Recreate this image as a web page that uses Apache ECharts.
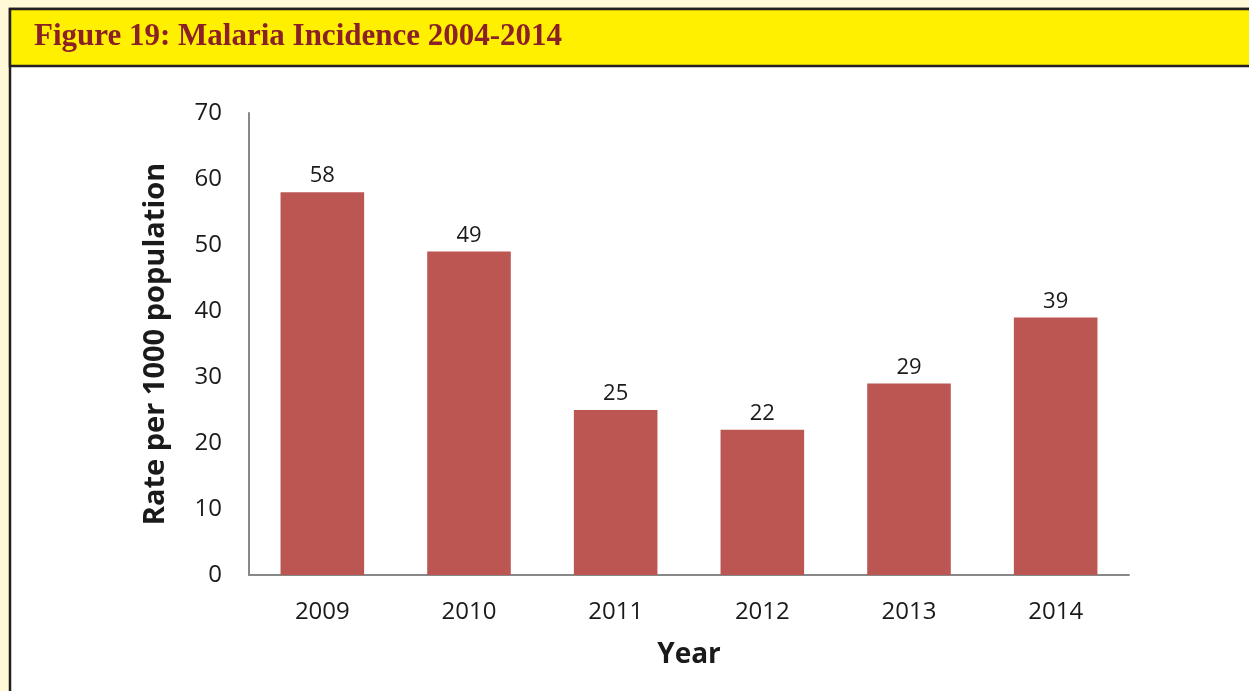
<!DOCTYPE html>
<html>
<head>
<meta charset="utf-8">
<script src="https://cdn.jsdelivr.net/npm/echarts@6/dist/echarts.min.js"></script>
<style>
html,body{margin:0;padding:0;background:#FFF9D7;}
#chart{width:1249px;height:691px;}
</style>
</head>
<body>
<div id="chart"></div>
<script>
const titleText = "Figure 19: Malaria Incidence 2004-2014";
const categories = ["2009", "2010", "2011", "2012", "2013", "2014"];
const values = [58, 49, 25, 22, 29, 39];
const yTicks = { min: 0, max: 70, interval: 10 };
const yAxisName = "Rate per 1000 population";
const xAxisName = "Year";

const chart = echarts.init(document.getElementById('chart'));
const font = "'Open Sans', 'Noto Sans', sans-serif";
chart.setOption({
  backgroundColor: '#FFF9D7',
  animation: false,
  graphic: [
    { type: 'rect', z: -10, shape: { x: 10, y: 9, width: 1260, height: 700 }, style: { fill: '#ffffff', stroke: '#231F20', lineWidth: 2.5 } },
    { type: 'rect', z: -9, shape: { x: 10, y: 9, width: 1260, height: 57 }, style: { fill: '#FFF000', stroke: '#231F20', lineWidth: 2.5 } },
    { type: 'text', z: 5, left: 34, top: 21, style: { text: titleText, fill: '#8A2127', font: "bold 31px 'Liberation Serif', serif" } }
  ],
  grid: { left: 249, top: 113, right: 120, bottom: 116 },
  xAxis: {
    type: 'category',
    data: categories,
    axisLine: { lineStyle: { color: '#888888', width: 2 } },
    axisTick: { show: false },
    axisLabel: { color: '#1a1a1a', fontSize: 24, fontFamily: font, margin: 25 },
    name: xAxisName,
    nameLocation: 'middle',
    nameGap: 66,
    nameTextStyle: { color: '#1a1a1a', fontSize: 28, fontWeight: 'bold', fontFamily: font }
  },
  yAxis: {
    type: 'value',
    min: yTicks.min, max: yTicks.max, interval: yTicks.interval,
    axisLine: { show: true, lineStyle: { color: '#888888', width: 2 } },
    axisTick: { show: false },
    splitLine: { show: false },
    axisLabel: { color: '#1a1a1a', fontSize: 24, fontFamily: font, margin: 27 },
    name: yAxisName,
    nameLocation: 'middle',
    nameGap: 79,
    nameTextStyle: { color: '#1a1a1a', fontSize: 29, fontWeight: 'bold', fontFamily: font }
  },
  series: [{
    type: 'bar',
    data: values,
    barWidth: '57%',
    itemStyle: { color: '#BC5653' },
    label: { show: true, position: 'top', distance: 5, color: '#1a1a1a', fontSize: 22, fontFamily: font }
  }]
});
</script>
</body>
</html>
